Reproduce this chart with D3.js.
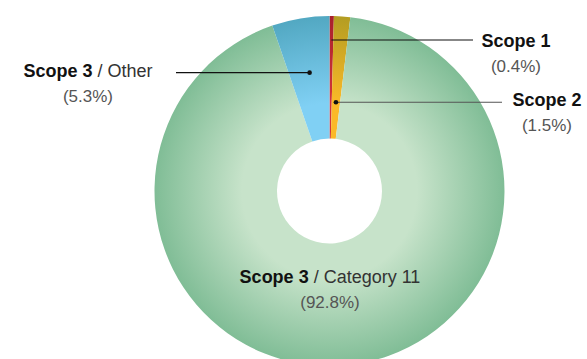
<!DOCTYPE html>
<html><head><meta charset="utf-8">
<script src="https://cdn.jsdelivr.net/npm/d3@7"></script>
<style>
html,body{margin:0;padding:0;background:#fff;}
svg{display:block;font-family:"Liberation Sans",Arial,Helvetica,sans-serif;}
</style></head>
<body>
<svg id="chart" width="587" height="359"></svg>
<script>
// ---- data ----
const categories = ["Scope 1", "Scope 2", "Scope 3 / Category 11", "Scope 3 / Other"];
const labelBold = ["Scope 1", "Scope 2", "Scope 3", "Scope 3"];
const labelSub = ["", "", "Category 11", "Other"];
const values = [0.4, 1.5, 92.8, 5.3];
const pctLabels = ["(0.4%)", "(1.5%)", "(92.8%)", "(5.3%)"];

// ---- styles / layout ----
const innerColors = ["#d3363a", "#fbb928", "#c7e3ca", "#80d0f4"];
const outerColors = ["#a8202c", "#b39d22", "#80bd96", "#52a8c2"];
const cx = 329.5, cy = 191, rOuter = 175, rInner = 52.5;
const lightStop = 0.5;
// per-label layout: radius of leader dot, end of leader line, text centre & baseline
const labelLayout = [
  {r: 151, lineEnd: 473, tx: 516, ty: 47, dot: false, stroke: "#111"},
  {r: 89,  lineEnd: 502, tx: 547, ty: 106, dot: true, stroke: "#555"},
  {r: null, tx: 330, ty: 283},
  {r: 120, lineEnd: 176, tx: 88, ty: 77, dot: true, stroke: "#111"}
];

const svg = d3.select("#chart");
const defs = svg.append("defs");
const g = svg.append("g").attr("transform", `translate(${cx},${cy})`);

const pie = d3.pie().sort(null).value(d => d).startAngle(0).endAngle(2 * Math.PI);
const arcs = pie(values);
const arc = d3.arc().innerRadius(rInner).outerRadius(rOuter);

arcs.forEach((a, i) => {
  const gr = defs.append("radialGradient")
    .attr("id", "grad" + i)
    .attr("gradientUnits", "userSpaceOnUse")
    .attr("cx", 0).attr("cy", 0).attr("r", rOuter);
  gr.append("stop").attr("offset", lightStop).attr("stop-color", innerColors[i]);
  gr.append("stop").attr("offset", 1).attr("stop-color", outerColors[i]);
});

g.selectAll("path.slice").data(arcs).join("path")
  .attr("class", "slice")
  .attr("d", arc)
  .attr("fill", (d, i) => `url(#grad${i})`);

// leader lines & labels
arcs.forEach((a, i) => {
  const L = labelLayout[i];
  if (L.r !== null) {
    const mid = (a.startAngle + a.endAngle) / 2;
    const px = cx + L.r * Math.sin(mid);
    const py = cy - L.r * Math.cos(mid);
    svg.append("line")
      .attr("x1", px).attr("y1", py)
      .attr("x2", L.lineEnd).attr("y2", py)
      .attr("stroke", L.stroke).attr("stroke-width", 1.2);
    if (L.dot) {
      svg.append("circle").attr("cx", px).attr("cy", py).attr("r", 2.3).attr("fill", "#111");
    }
  }
  const t = svg.append("text")
    .attr("x", L.tx).attr("y", L.ty)
    .attr("text-anchor", "middle")
    .style("font-size", "18px");
  t.append("tspan").attr("font-weight", "bold").attr("fill", "#111").text(labelBold[i]);
  if (labelSub[i]) {
    t.append("tspan").attr("fill", "#333").text(" / " + labelSub[i]);
  }
  svg.append("text")
    .attr("x", L.tx).attr("y", L.ty + 25)
    .attr("text-anchor", "middle")
    .attr("fill", "#555")
    .style("font-size", "17px")
    .text(pctLabels[i]);
});
</script>
</body></html>
